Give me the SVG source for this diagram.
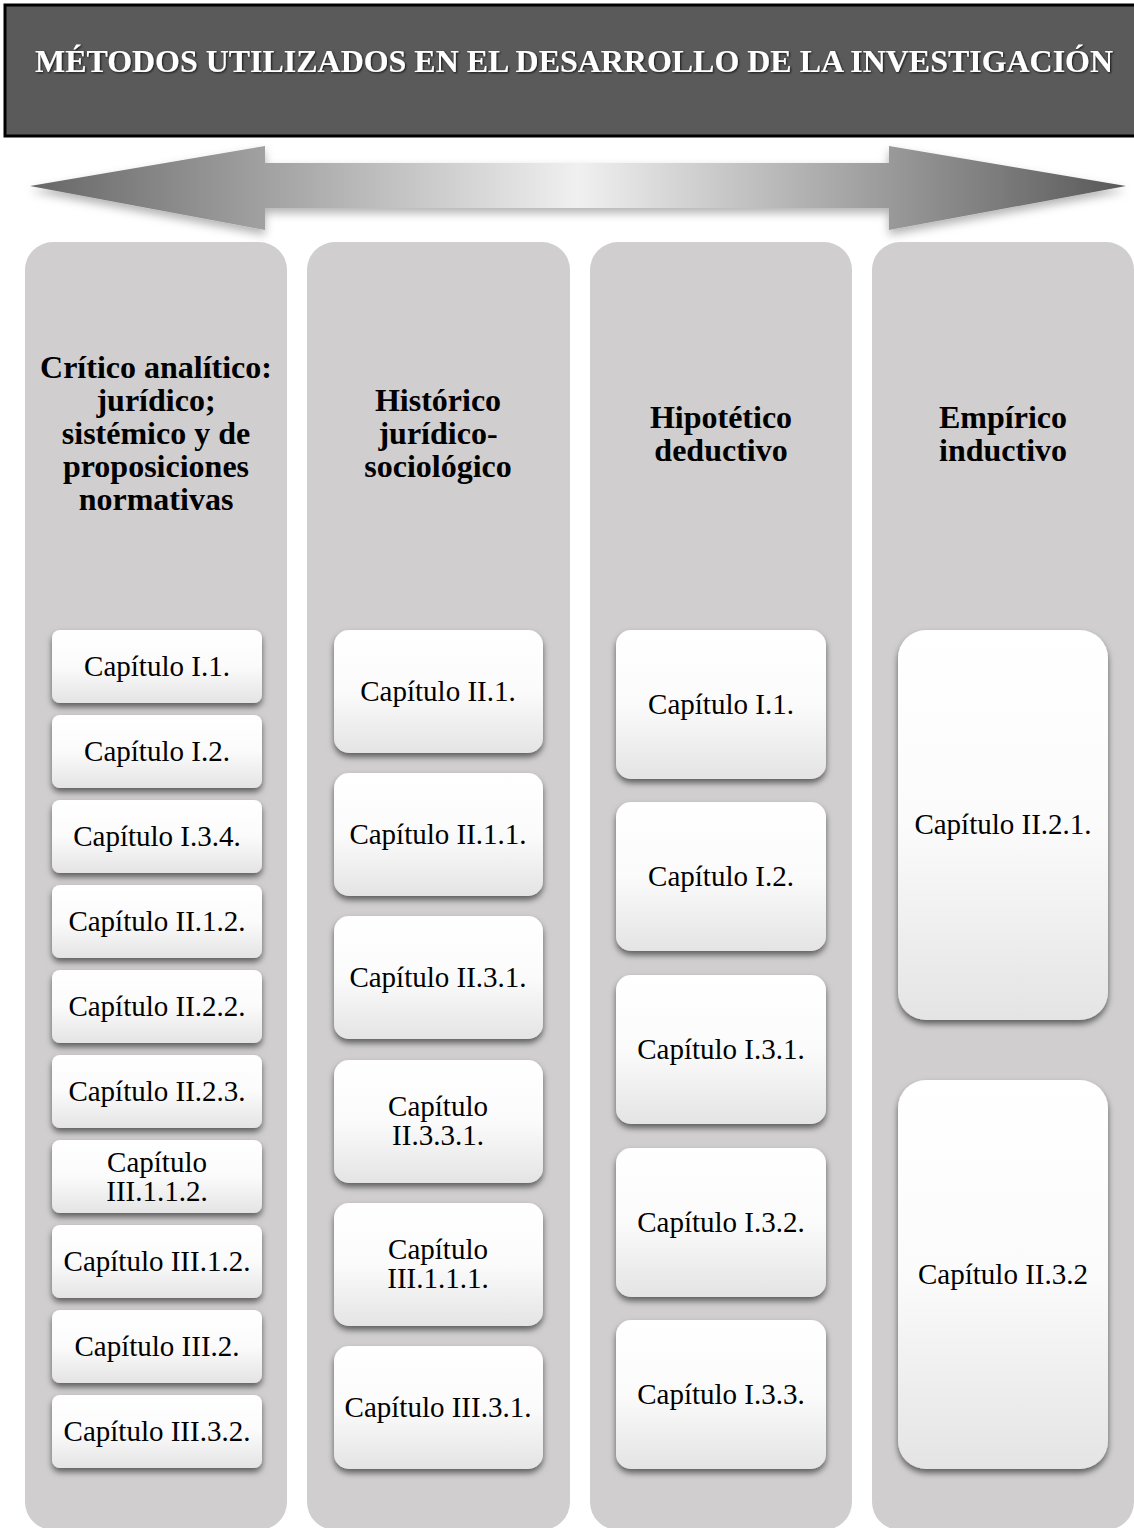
<svg xmlns="http://www.w3.org/2000/svg" width="1134" height="1528" viewBox="0 0 1134 1528">
<defs>
<linearGradient id="arrowGrad" x1="0" y1="0" x2="1" y2="0">
<stop offset="0" stop-color="#666666"/>
<stop offset="0.5" stop-color="#f0f0f0"/>
<stop offset="1" stop-color="#585858"/>
</linearGradient>
<linearGradient id="boxGrad" x1="0" y1="0" x2="0" y2="1">
<stop offset="0" stop-color="#ffffff"/>
<stop offset="0.5" stop-color="#fbfbfb"/>
<stop offset="1" stop-color="#e4e4e4"/>
</linearGradient>
<filter id="boxShadow" x="-10%" y="-10%" width="120%" height="130%">
<feDropShadow dx="0" dy="4" stdDeviation="3" flood-color="#000" flood-opacity="0.55"/>
</filter>
<filter id="arrowShadow" x="-5%" y="-20%" width="110%" height="150%">
<feDropShadow dx="0" dy="5" stdDeviation="5" flood-color="#000" flood-opacity="0.3"/>
</filter>
<filter id="titleShadow" x="-2%" y="-20%" width="104%" height="140%">
<feDropShadow dx="1" dy="1" stdDeviation="0.8" flood-color="#000" flood-opacity="0.8"/>
</filter>
</defs>
<style>
.col { fill: #d0cecf; }
.box { fill: url(#boxGrad); filter: url(#boxShadow); }
.hdr { font-family: "Liberation Serif", "Times New Roman", serif; font-weight: bold; font-size: 32px; fill: #000; text-anchor: middle; }
.lbl { font-family: "Liberation Serif", "Times New Roman", serif; font-size: 29px; fill: #000; text-anchor: middle; }
.title { font-family: "Liberation Serif", "Times New Roman", serif; font-weight: bold; font-size: 31px; fill: #ffffff; }
</style>
<rect width="1134" height="1528" fill="#ffffff"/>

<g id="title">
<rect x="5" y="5" width="1140" height="131" fill="#5a5a5a" stroke="#000" stroke-width="3"/>
<text class="title" x="35" y="72" textLength="1078" lengthAdjust="spacingAndGlyphs" filter="url(#titleShadow)">MÉTODOS UTILIZADOS EN EL DESARROLLO DE LA INVESTIGACIÓN</text>
</g>

<g id="connectors">
<polygon id="double-arrow" points="30,186 265,146 265,163 889,163 889,146 1126,186 889,230 889,208 265,208 265,230" fill="url(#arrowGrad)" filter="url(#arrowShadow)"/>
</g>

<g id="col1">
<rect class="col" x="25" y="242" width="262" height="1288" rx="28"/>
<text class="hdr" x="156" y="378">Crítico analítico:</text>
<text class="hdr" x="156" y="411">jurídico;</text>
<text class="hdr" x="156" y="444">sistémico y de</text>
<text class="hdr" x="156" y="477">proposiciones</text>
<text class="hdr" x="156" y="510">normativas</text>
</g>
<g id="col2">
<rect class="col" x="307" y="242" width="263" height="1288" rx="28"/>
<text class="hdr" x="438" y="411">Histórico</text>
<text class="hdr" x="438" y="444">jurídico-</text>
<text class="hdr" x="438" y="477">sociológico</text>
</g>
<g id="col3">
<rect class="col" x="590" y="242" width="262" height="1288" rx="28"/>
<text class="hdr" x="721" y="428">Hipotético</text>
<text class="hdr" x="721" y="461">deductivo</text>
</g>
<g id="col4">
<rect class="col" x="872" y="242" width="262" height="1288" rx="28"/>
<text class="hdr" x="1003" y="428">Empírico</text>
<text class="hdr" x="1003" y="461">inductivo</text>
</g>

<g id="c1-b1"><rect class="box" x="52" y="630" width="210" height="73" rx="8"/><text class="lbl" x="157" y="676">Capítulo I.1.</text></g>
<g id="c1-b2"><rect class="box" x="52" y="715" width="210" height="73" rx="8"/><text class="lbl" x="157" y="761">Capítulo I.2.</text></g>
<g id="c1-b3"><rect class="box" x="52" y="800" width="210" height="73" rx="8"/><text class="lbl" x="157" y="846">Capítulo I.3.4.</text></g>
<g id="c1-b4"><rect class="box" x="52" y="885" width="210" height="73" rx="8"/><text class="lbl" x="157" y="931">Capítulo II.1.2.</text></g>
<g id="c1-b5"><rect class="box" x="52" y="970" width="210" height="73" rx="8"/><text class="lbl" x="157" y="1016">Capítulo II.2.2.</text></g>
<g id="c1-b6"><rect class="box" x="52" y="1055" width="210" height="73" rx="8"/><text class="lbl" x="157" y="1101">Capítulo II.2.3.</text></g>
<g id="c1-b7"><rect class="box" x="52" y="1140" width="210" height="73" rx="8"/><text class="lbl" x="157" y="1172">Capítulo</text><text class="lbl" x="157" y="1201">III.1.1.2.</text></g>
<g id="c1-b8"><rect class="box" x="52" y="1225" width="210" height="73" rx="8"/><text class="lbl" x="157" y="1271">Capítulo III.1.2.</text></g>
<g id="c1-b9"><rect class="box" x="52" y="1310" width="210" height="73" rx="8"/><text class="lbl" x="157" y="1356">Capítulo III.2.</text></g>
<g id="c1-b10"><rect class="box" x="52" y="1395" width="210" height="73" rx="8"/><text class="lbl" x="157" y="1441">Capítulo III.3.2.</text></g>

<g id="c2-b1"><rect class="box" x="334" y="630" width="209" height="123" rx="15"/><text class="lbl" x="438" y="701">Capítulo II.1.</text></g>
<g id="c2-b2"><rect class="box" x="334" y="773" width="209" height="123" rx="15"/><text class="lbl" x="438" y="844">Capítulo II.1.1.</text></g>
<g id="c2-b3"><rect class="box" x="334" y="916" width="209" height="123" rx="15"/><text class="lbl" x="438" y="987">Capítulo II.3.1.</text></g>
<g id="c2-b4"><rect class="box" x="334" y="1060" width="209" height="123" rx="15"/><text class="lbl" x="438" y="1116">Capítulo</text><text class="lbl" x="438" y="1145">II.3.3.1.</text></g>
<g id="c2-b5"><rect class="box" x="334" y="1203" width="209" height="123" rx="15"/><text class="lbl" x="438" y="1259">Capítulo</text><text class="lbl" x="438" y="1288">III.1.1.1.</text></g>
<g id="c2-b6"><rect class="box" x="334" y="1346" width="209" height="123" rx="15"/><text class="lbl" x="438" y="1417">Capítulo III.3.1.</text></g>

<g id="c3-b1"><rect class="box" x="616" y="630" width="210" height="149" rx="15"/><text class="lbl" x="721" y="714">Capítulo I.1.</text></g>
<g id="c3-b2"><rect class="box" x="616" y="802" width="210" height="149" rx="15"/><text class="lbl" x="721" y="886">Capítulo I.2.</text></g>
<g id="c3-b3"><rect class="box" x="616" y="975" width="210" height="149" rx="15"/><text class="lbl" x="721" y="1059">Capítulo I.3.1.</text></g>
<g id="c3-b4"><rect class="box" x="616" y="1148" width="210" height="149" rx="15"/><text class="lbl" x="721" y="1232">Capítulo I.3.2.</text></g>
<g id="c3-b5"><rect class="box" x="616" y="1320" width="210" height="149" rx="15"/><text class="lbl" x="721" y="1404">Capítulo I.3.3.</text></g>

<g id="c4-b1"><rect class="box" x="898" y="630" width="210" height="390" rx="28"/><text class="lbl" x="1003" y="834">Capítulo II.2.1.</text></g>
<g id="c4-b2"><rect class="box" x="898" y="1080" width="210" height="389" rx="28"/><text class="lbl" x="1003" y="1284">Capítulo II.3.2</text></g>
</svg>
